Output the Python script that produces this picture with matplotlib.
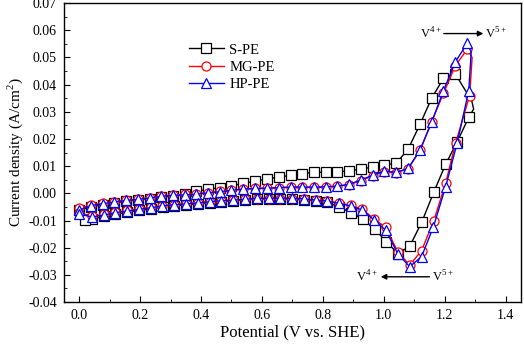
import numpy as np
import matplotlib.pyplot as plt

plt.rcParams['font.family'] = ['Liberation Serif', 'DejaVu Serif']
plt.rcParams['mathtext.fontset'] = 'custom'
plt.rcParams['mathtext.rm'] = 'Liberation Serif'

# S-PE: forward sweep, vertex (no marker), reverse sweep
s_fwd_v = [0.000, 0.038, 0.077, 0.115, 0.154, 0.192, 0.231, 0.270, 0.309, 0.347,
           0.385, 0.424, 0.462, 0.500, 0.539, 0.578, 0.616, 0.655, 0.694, 0.732,
           0.771, 0.809, 0.848, 0.886, 0.925, 0.964, 1.002, 1.041, 1.080, 1.119,
           1.157, 1.196, 1.235]
s_fwd_i = [-0.0062, -0.0050, -0.0042, -0.0035, -0.0029, -0.0024, -0.0019, -0.0014, -0.0010, -0.0003,
           0.0008, 0.0015, 0.0021, 0.0028, 0.0037, 0.0045, 0.0053, 0.0060, 0.0066, 0.0073,
           0.0077, 0.0078, 0.0079, 0.0083, 0.0089, 0.0097, 0.0104, 0.0111, 0.0163, 0.0254,
           0.0350, 0.0423, 0.0439]
s_vtx_v = [1.289, 1.295]
s_vtx_i = [0.0340, 0.0310]
s_rev_v = [1.280, 1.241, 1.203, 1.164, 1.125, 1.086, 1.047, 1.008, 0.970, 0.931,
           0.892, 0.854, 0.815, 0.776, 0.738, 0.699, 0.660, 0.622, 0.583, 0.544,
           0.506, 0.467, 0.428, 0.390, 0.351, 0.312, 0.274, 0.235, 0.196, 0.158,
           0.119, 0.080, 0.042, 0.020]
s_rev_i = [0.0282, 0.0190, 0.0107, 0.0004, -0.0105, -0.0193, -0.0222, -0.0178, -0.0131, -0.0095,
           -0.0071, -0.0050, -0.0033, -0.0027, -0.0024, -0.0021, -0.0020, -0.0020, -0.0021, -0.0024,
           -0.0027, -0.0030, -0.0034, -0.0038, -0.0042, -0.0046, -0.0051, -0.0057, -0.0063, -0.0070,
           -0.0077, -0.0085, -0.0095, -0.0098]

# MG-PE
m_fwd_v = [0.000, 0.038, 0.077, 0.115, 0.154, 0.192, 0.231, 0.270, 0.309, 0.347,
           0.385, 0.424, 0.462, 0.500, 0.539, 0.578, 0.616, 0.655, 0.694, 0.732,
           0.771, 0.809, 0.848, 0.886, 0.925, 0.964, 1.002, 1.041, 1.080, 1.119,
           1.157, 1.196, 1.235, 1.274]
m_fwd_i = [-0.0055, -0.0043, -0.0037, -0.0031, -0.0025, -0.0021, -0.0016, -0.0009, -0.0006, -0.0004,
           -0.0002, 0.0003, 0.0007, 0.0011, 0.0016, 0.0018, 0.0019, 0.0021, 0.0022, 0.0022,
           0.0022, 0.0023, 0.0026, 0.0032, 0.0047, 0.0065, 0.0080, 0.0076, 0.0091, 0.0158,
           0.0264, 0.0368, 0.0470, 0.0530]
m_vtx_v = [1.290]
m_vtx_i = [0.0500]
m_rev_v = [1.282, 1.236, 1.203, 1.164, 1.124, 1.085, 1.046, 1.006, 0.968, 0.929,
           0.891, 0.853, 0.814, 0.776, 0.737, 0.699, 0.660, 0.622, 0.583, 0.544,
           0.505, 0.466, 0.428, 0.389, 0.351, 0.312, 0.273, 0.235, 0.196, 0.157,
           0.119, 0.080, 0.041, 0.000]
m_rev_i = [0.0360, 0.0186, 0.0037, -0.0101, -0.0211, -0.0264, -0.0215, -0.0125, -0.0094, -0.0058,
           -0.0044, -0.0036, -0.0028, -0.0025, -0.0021, -0.0019, -0.0019, -0.0019, -0.0019, -0.0022,
           -0.0025, -0.0027, -0.0030, -0.0034, -0.0038, -0.0041, -0.0045, -0.0051, -0.0057, -0.0063,
           -0.0069, -0.0077, -0.0084, -0.0072]

# HP-PE
h_fwd_v = [0.000, 0.038, 0.077, 0.115, 0.154, 0.192, 0.231, 0.270, 0.309, 0.347,
           0.385, 0.424, 0.462, 0.500, 0.539, 0.578, 0.616, 0.655, 0.694, 0.732,
           0.771, 0.809, 0.848, 0.886, 0.925, 0.964, 1.002, 1.041, 1.080, 1.119,
           1.157, 1.196, 1.235, 1.274]
h_fwd_i = [-0.0061, -0.0045, -0.0038, -0.0032, -0.0026, -0.0022, -0.0017, -0.0011, -0.0007, -0.0006,
           -0.0003, 0.0002, 0.0006, 0.0011, 0.0016, 0.0018, 0.0019, 0.0021, 0.0023, 0.0023,
           0.0023, 0.0024, 0.0027, 0.0033, 0.0049, 0.0067, 0.0082, 0.0077, 0.0092, 0.0159,
           0.0261, 0.0378, 0.0484, 0.0552]
h_vtx_v = [1.287]
h_vtx_i = [0.0520]
h_rev_v = [1.279, 1.241, 1.203, 1.163, 1.124, 1.085, 1.046, 1.006, 0.968, 0.929,
           0.891, 0.853, 0.814, 0.776, 0.737, 0.699, 0.660, 0.622, 0.583, 0.544,
           0.505, 0.466, 0.428, 0.389, 0.351, 0.312, 0.273, 0.235, 0.196, 0.157,
           0.119, 0.080, 0.041, 0.000]
h_rev_i = [0.0378, 0.0186, 0.0024, -0.0123, -0.0233, -0.0270, -0.0222, -0.0135, -0.0098, -0.0061,
           -0.0046, -0.0037, -0.0028, -0.0025, -0.0020, -0.0018, -0.0018, -0.0018, -0.0018, -0.0022,
           -0.0025, -0.0027, -0.0031, -0.0035, -0.0039, -0.0042, -0.0046, -0.0053, -0.0059, -0.0065,
           -0.0071, -0.0080, -0.0087, -0.0075]

series = [
    ('S-PE', 's', 'black', s_fwd_v, s_fwd_i, s_vtx_v, s_vtx_i, s_rev_v, s_rev_i),
    ('MG-PE', 'o', 'red', m_fwd_v, m_fwd_i, m_vtx_v, m_vtx_i, m_rev_v, m_rev_i),
    ('HP-PE', '^', 'blue', h_fwd_v, h_fwd_i, h_vtx_v, h_vtx_i, h_rev_v, h_rev_i),
]

fig = plt.figure(figsize=(5.24, 3.48), dpi=100)
ax = fig.add_axes([0.122, 0.132, 0.872, 0.859])

for name, mk, col, fv, fi, vv, vi, rv, ri in series:
    x = fv + vv + rv
    y = fi + vi + ri
    skip = set(range(len(fv), len(fv) + len(vv)))
    marks = [k for k in range(len(x)) if k not in skip]
    ax.plot(x, y, color=col, lw=1.0, marker=mk, markersize=6.5,
            markerfacecolor='white', markeredgecolor=col, markeredgewidth=0.9,
            markevery=marks, label=name)

ax.set_xlim(-0.05, 1.45)
ax.set_ylim(-0.04, 0.07)
ax.set_xticks(np.arange(0.0, 1.41, 0.2))
ax.set_xticks(np.arange(0.1, 1.41, 0.2), minor=True)
ax.set_yticks(np.arange(-0.04, 0.0701, 0.01))
ax.set_yticks(np.arange(-0.035, 0.07, 0.01), minor=True)
ax.xaxis.set_major_formatter(plt.FormatStrFormatter('%.1f'))
ax.yaxis.set_major_formatter(plt.FormatStrFormatter('%.2f'))
ax.tick_params(direction='in', which='both', top=False, right=False, labelsize=10)
ax.tick_params(which='major', length=4, pad=5)
ax.tick_params(which='minor', length=2)
for sp in ax.spines.values():
    sp.set_linewidth(1.0)

ax.set_xlabel('Potential (V vs. SHE)', fontsize=12, labelpad=2)
ax.set_ylabel('Current density (A/cm$^2$)', fontsize=11, labelpad=2)

ax.legend(loc='upper left', bbox_to_anchor=(0.26, 0.885), frameon=False, fontsize=10.5,
          handlelength=2.4, handletextpad=0.4, labelspacing=0.28, borderaxespad=0)

ax.annotate('', xy=(1.327, 0.0588), xytext=(1.197, 0.0588),
            arrowprops=dict(arrowstyle='-|>', color='black', lw=1.0, mutation_scale=8,
                            shrinkA=0, shrinkB=0))
ax.text(1.192, 0.0588, 'V$^{4+}$', ha='right', va='center', fontsize=9)
ax.text(1.332, 0.0588, 'V$^{5+}$', ha='left', va='center', fontsize=9)

ax.annotate('', xy=(0.99, -0.0307), xytext=(1.15, -0.0307),
            arrowprops=dict(arrowstyle='-|>', color='black', lw=1.0, mutation_scale=8,
                            shrinkA=0, shrinkB=0))
ax.text(0.98, -0.0307, 'V$^{4+}$', ha='right', va='center', fontsize=9)
ax.text(1.158, -0.0307, 'V$^{5+}$', ha='left', va='center', fontsize=9)

fig.savefig('out.png', dpi=100)
